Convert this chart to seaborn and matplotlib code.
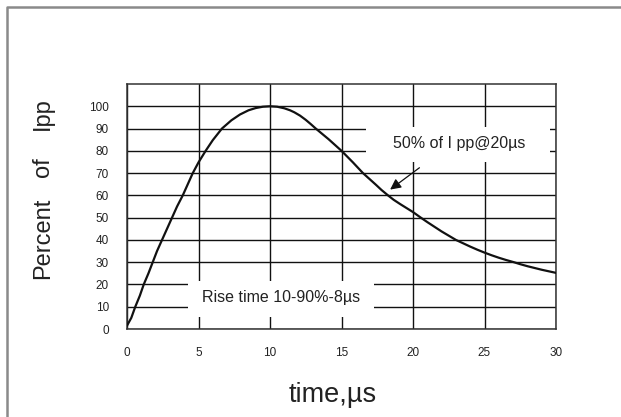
import numpy as np
import pandas as pd
import matplotlib
matplotlib.use("Agg")
import matplotlib.pyplot as plt
from matplotlib.patches import Rectangle
from matplotlib.lines import Line2D
import seaborn as sns

# Pulse shape (time in us, percent of Ipp)
time_us = [0, 0.3, 0.58, 0.9, 1.17, 1.5, 1.8, 2.1, 2.45, 2.8, 3.15, 3.5, 3.9,
           4.25, 4.6, 5.0, 5.5, 6.0, 6.64, 7.3, 7.9, 8.5, 9.0, 9.5, 10.0,
           10.5, 11.0, 11.4, 11.7, 12.1, 12.5, 12.85, 13.2, 13.65, 14.1,
           14.55, 15.0, 15.4, 15.8, 16.15, 16.5, 16.95, 17.4, 17.8, 18.25,
           18.65, 19.1, 19.55, 20.0, 20.5, 21.0, 21.5, 22.0, 22.5, 23.0,
           23.5, 24.0, 24.5, 25.0, 25.5, 26.0, 26.5, 27.05, 27.5, 28.0,
           28.5, 29.0, 29.5, 30.0]
percent_ipp = [1.5, 5, 10, 15, 20, 25, 30, 35, 40, 45, 50, 55, 60,
               65, 70, 74.8, 80, 84.8, 90, 93.7, 96.3, 98.2, 99.2, 99.8, 100,
               99.8, 99.1, 98.2, 97.3, 95.8, 93.9, 92.0, 90, 87.6, 85.2,
               82.6, 80, 77.4, 74.8, 72.4, 70, 67.4, 64.8, 62.4, 60,
               58.0, 56.1, 54.3, 52.5, 50.2, 48.0, 45.9, 43.8, 41.9, 40.0,
               38.5, 37.0, 35.6, 34.3, 33.1, 32.0, 31.0, 30, 29.1, 28.2,
               27.4, 26.6, 25.9, 25.2]

x_ticks = [0, 5, 10, 15, 20, 25, 30]
y_ticks = [0, 10, 20, 30, 40, 50, 60, 70, 80, 90, 100]

df = pd.DataFrame({"time": time_us, "pct": percent_ipp})

sns.set_style("white")
plt.rcParams['font.family'] = ['Liberation Sans', 'DejaVu Sans']

fig = plt.figure(figsize=(6.21, 4.17), dpi=100)
ax = fig.add_axes([127 / 621, 1 - 329 / 417, 429 / 621, 245 / 417])

# grid
ax.set_axisbelow(True)
ax.grid(True, color="#111111", linewidth=1.0)

# white boxes behind the labels break the grid
ax.add_patch(Rectangle((16.7, 74.8), 12.9, 16.1, facecolor="white",
                       edgecolor="none", zorder=1))
ax.add_patch(Rectangle((4.3, 5.5), 13.0, 16.1, facecolor="white",
                       edgecolor="none", zorder=1))

sns.lineplot(data=df, x="time", y="pct", ax=ax, color="#111111",
             linewidth=1.6, zorder=3)

ax.set_xlim(0, 30)
ax.set_ylim(0, 110)
ax.set_xticks(x_ticks)
ax.set_yticks(y_ticks)
ax.tick_params(axis="both", length=0, labelsize=8.5, colors="#222222", pad=13)
ax.set_xlabel("")
ax.set_ylabel("")

for s in ax.spines.values():
    s.set_color("#333333")
    s.set_linewidth(1.1)
    s.set_zorder(2.5)

ax.text(10.8, 14.3, "Rise time 10-90%-8\u00b5s", ha="center", va="center",
        fontsize=11.5, color="#222222", zorder=4)
ax.text(23.2, 83.3, "50% of I pp@20\u00b5s", ha="center", va="center",
        fontsize=11.5, color="#222222", zorder=4)
ax.annotate("", xy=(18.4, 62.6), xytext=(20.45, 72.4),
            arrowprops=dict(arrowstyle="-|>", color="#111111", lw=0.9,
                            mutation_scale=16, shrinkA=0, shrinkB=0),
            zorder=4)

# y label, words set apart like the original
for word, yc in [("Percent", 238), ("of", 167), ("Ipp", 114)]:
    fig.text(43 / 621, 1 - yc / 417, word, rotation=90,
             ha="center", va="center", fontsize=17, color="#222222")
fig.text(333 / 621, 1 - 395 / 417, "time,\u00b5s", ha="center", va="center",
         fontsize=19.5, color="#222222")

# outer frame (top and left visible)
fig.lines.append(Line2D([7 / 621, 7 / 621, 1.0], [0.0, 1 - 7 / 417, 1 - 7 / 417],
                        transform=fig.transFigure, color="#8a8a8a",
                        linewidth=1.8))

fig.savefig("out.png", dpi=100)
